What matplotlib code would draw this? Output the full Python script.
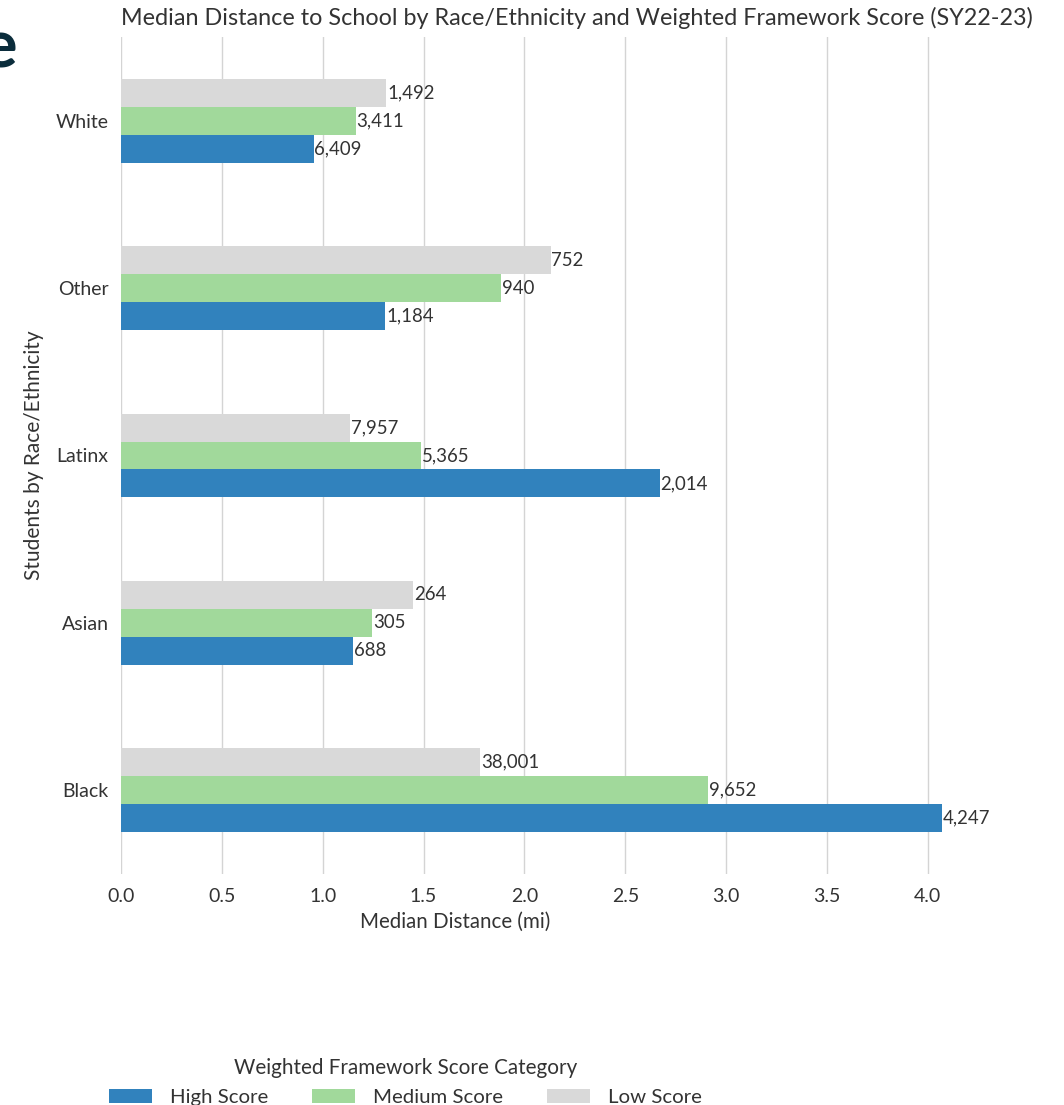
import numpy as np
import matplotlib as mpl
mpl.use('Agg')
import matplotlib.pyplot as plt
from matplotlib.patches import Patch

plt.rcParams['font.family'] = ['Lato', 'DejaVu Sans']

groups = ['Black', 'Asian', 'Latinx', 'Other', 'White']
series = ['High Score', 'Medium Score', 'Low Score']
colors = ['#3182bd', '#a1d99b', '#d9d9d9']

high_dist = [4.07, 1.15, 2.67, 1.31, 0.955]
medium_dist = [2.91, 1.245, 1.487, 1.884, 1.163]
low_dist = [1.78, 1.447, 1.135, 2.13, 1.316]

high_n = ['4,247', '688', '2,014', '1,184', '6,409']
medium_n = ['9,652', '305', '5,365', '940', '3,411']
low_n = ['38,001', '264', '7,957', '752', '1,492']

xticks = [0.0, 0.5, 1.0, 1.5, 2.0, 2.5, 3.0, 3.5, 4.0]

W, H = 1064, 1105
fig = plt.figure(figsize=(W / 100, H / 100), dpi=100)
ax = fig.add_axes([121 / W, 1 - 874 / H, (942 - 121) / W, (874 - 37) / H])

bar_h = 0.167
y = np.arange(len(groups))
txt = '#333333'
for i, (vals, labs) in enumerate([(high_dist, high_n), (medium_dist, medium_n),
                                  (low_dist, low_n)]):
    pos = y + (i - 1) * bar_h
    bars = ax.barh(pos, vals, height=bar_h, color=colors[i], zorder=2)
    for b, lab in zip(bars, labs):
        ax.text(b.get_width() + 0.004, b.get_y() + bar_h / 2, lab,
                va='center', ha='left', fontsize=13.4, color=txt, zorder=3)

ax.set_xlim(0, 4.07)
ax.set_ylim(-0.5, len(groups) - 0.5)
ax.set_yticks(y)
ax.set_yticklabels(groups)
ax.set_xticks(xticks)
ax.set_xticklabels(['%.1f' % t for t in xticks])
ax.tick_params(length=0, labelsize=14, labelcolor=txt)
ax.tick_params(axis='y', pad=9)
ax.tick_params(axis='x', pad=10)
ax.grid(axis='x', color='#d4d4d4', linewidth=1, zorder=0)
for s in ax.spines.values():
    s.set_visible(False)

ax.set_xlabel('Median Distance (mi)', fontsize=14.8, color=txt)
ax.xaxis.set_label_coords((455 - 121) / (942 - 121), -(912 - 874) / 837)
ax.set_ylabel('Students by Race/Ethnicity', fontsize=15, color=txt)
ax.yaxis.set_label_coords(-(121 - 44) / (942 - 121), 0.5)

fig.text(121 / W, 1 - 18 / H,
         'Median Distance to School by Race/Ethnicity and Weighted Framework Score (SY22-23)',
         ha='left', va='center', fontsize=16.8, color=txt)

# cut-off heading letter from the page
fig.text(-18 / W, 1 - 48 / H, 'e', ha='left', va='center', fontsize=48,
         fontweight='bold', color='#0b2d3c')

handles = [Patch(facecolor=c, edgecolor='none') for c in colors]
leg = fig.legend(handles, series, loc='lower left', ncol=3,
                 bbox_to_anchor=(109 / W, -1 / H), frameon=False,
                 borderpad=0, borderaxespad=0,
                 title='Weighted Framework Score Category',
                 fontsize=14.7, title_fontsize=14.9, handlelength=2.1,
                 handleheight=0.73, handletextpad=0.88, columnspacing=2.15)
for t in leg.get_texts():
    t.set_color(txt)
leg.get_title().set_color(txt)

fig.savefig('out.png', dpi=100)
